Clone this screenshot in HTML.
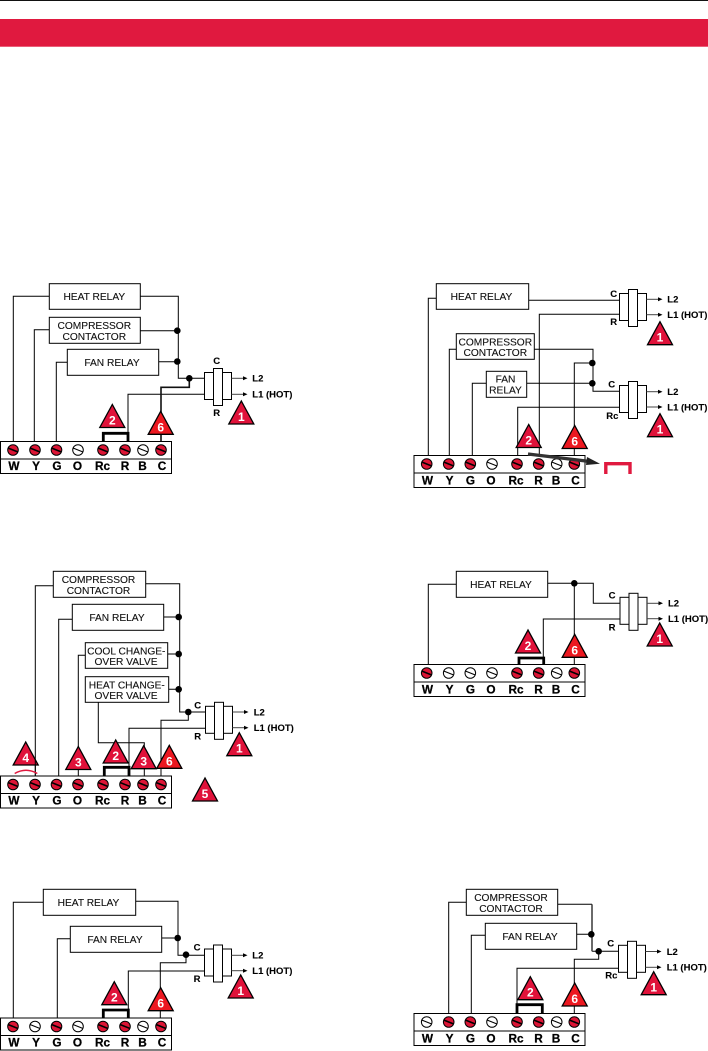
<!DOCTYPE html>
<html><head><meta charset="utf-8"><style>
html,body{margin:0;padding:0;background:#fff}
svg{display:block}
text{font-family:"Liberation Sans",sans-serif}
.w{fill:none;stroke:#000;stroke-width:1}
.th{fill:none;stroke:#111;stroke-width:1.6}
.j{fill:none;stroke:#000;stroke-width:2.8}
.b{fill:#fff;stroke:#000;stroke-width:1}
.bt{font-size:10.2px;text-anchor:middle;fill:#111;stroke:#111;stroke-width:.12}
.tl{font-size:11.8px;font-weight:bold;text-anchor:middle;fill:#000;stroke:#000;stroke-width:.25}
.lb{font-size:9.5px;font-weight:bold;fill:#000;stroke:#000;stroke-width:.1}
.c{text-anchor:middle}
.n{font-size:12px;font-weight:bold;text-anchor:middle;fill:#fff}
</style></head><body>
<svg xmlns="http://www.w3.org/2000/svg" width="708" height="1051" viewBox="0 0 708 1051">
<defs>
<g id="r"><circle r="5.3" fill="#dc1535" stroke="#000" stroke-width="1"/><line x1="-5" y1="-2" x2="5" y2="2" stroke="#000" stroke-width="1.5"/></g>
<g id="o"><circle r="5.3" fill="#fff" stroke="#000" stroke-width="1"/><line x1="-5" y1="-2" x2="5" y2="2" stroke="#000" stroke-width="1"/></g>
<polygon id="t" points="0,0 -12.5,23 12.5,23" fill="#e0123a" stroke="#000" stroke-width="1.3"/>
<polygon id="t6" points="0,0 -12.5,23 12.5,23" fill="#ec1820" stroke="#000" stroke-width="1.3"/>
<g id="k"><rect class="b" x="0" y="4" width="27" height="27"/><rect class="b" x="9" y="0" width="9" height="37"/></g>
<g id="a"><line x1="27" y1="0" x2="41" y2="0" stroke="#444" stroke-width="1"/><polygon points="43,0 38.5,-2 38.5,2" fill="#000"/></g>
<rect id="bk" class="b" x="0.5" y="0.5" width="171" height="32"/>
</defs>
<rect width="708" height="1051" fill="#fff"/>
<rect x="0" y="0" width="708" height="1" fill="#111"/>
<rect x="0" y="19" width="708" height="27.7" fill="#e0193f"/>

<!-- Diagram 1 -->
<path class="w" d="M13.3 441V296.3H49.3M34.3 441V329.7H49.3M56.3 441V362.3H67.3M140.3 296.3H178.3V378.3H204.3M140.3 330.7H178M158.7 361.7H178M128 433V394.3H204.3"/>
<path class="th" d="M161 441V387.3H189.3V378.3"/>
<path class="j" d="M103.3 441V433.3H128V441"/>
<circle cx="177.3" cy="330.7" r="3.3"/><circle cx="177.3" cy="361.5" r="3.3"/><circle cx="189.3" cy="378.3" r="3.3"/>
<rect class="b" x="49.3" y="283.7" width="91" height="25.6"/><text class="bt" x="94.3" y="300">HEAT RELAY</text>
<rect class="b" x="49.3" y="317.3" width="91" height="26"/><text class="bt" x="94.3" y="329">COMPRESSOR</text><text class="bt" x="94.3" y="340">CONTACTOR</text>
<rect class="b" x="67.3" y="349.3" width="91.4" height="26"/><text class="bt" x="112" y="366">FAN RELAY</text>
<use href="#k" x="204.5" y="368.5"/>
<use href="#a" x="204.5" y="378.3"/><use href="#a" x="204.5" y="394.3"/>
<text class="lb" x="252.3" y="381.7">L2</text><text class="lb" x="252.3" y="397.7">L1 (HOT)</text>
<text class="lb c" x="216.7" y="364">C</text><text class="lb c" x="216.7" y="416">R</text>
<use href="#t" x="112.3" y="404.5"/><text class="n" x="112.3" y="424.5">2</text>
<use href="#t6" x="160.7" y="411.3"/><text class="n" x="160.7" y="431.3">6</text>
<use href="#t" x="241.3" y="401"/><text class="n" x="241.3" y="421">1</text>
<g transform="translate(0,441)"><use href="#bk"/><line class="w" x1="0" y1="18" x2="171" y2="18"/>
<use href="#r" x="13" y="9"/><use href="#r" x="35" y="9"/><use href="#r" x="56.5" y="9"/><use href="#o" x="78" y="9"/><use href="#r" x="103" y="9"/><use href="#r" x="125" y="9"/><use href="#o" x="143" y="9"/><use href="#r" x="161" y="9"/>
<text class="tl" x="14" y="29">W</text><text class="tl" x="36" y="29">Y</text><text class="tl" x="57" y="29">G</text><text class="tl" x="77.5" y="29">O</text><text class="tl" x="102.5" y="29">Rc</text><text class="tl" x="125" y="29">R</text><text class="tl" x="142.5" y="29">B</text><text class="tl" x="162" y="29">C</text></g>

<!-- Diagram 2 -->
<path class="w" d="M428.3 456V298.3H436.3M528.7 300.3H619.3M619.3 314.3H539.3V456M449.3 456V349.3H456.3M534.3 349.3H593V391.3H619.3M574.3 456V363H592.3M472.3 456V383.3H486.3M526.7 383.3H592.3M619.3 407.3H517.7V456"/>
<circle cx="592.3" cy="363" r="3.3"/><circle cx="592.3" cy="383.3" r="3.3"/>
<rect class="b" x="436.3" y="283.7" width="92.4" height="25.6"/><text class="bt" x="481.5" y="300">HEAT RELAY</text>
<rect class="b" x="456.3" y="333.7" width="78" height="25.6"/><text class="bt" x="495.3" y="345.5">COMPRESSOR</text><text class="bt" x="495.3" y="356">CONTACTOR</text>
<rect class="b" x="486.3" y="371.3" width="40.4" height="26"/><text class="bt" x="505.5" y="382.5">FAN</text><text class="bt" x="505.5" y="393.5">RELAY</text>
<use href="#k" x="619.5" y="289.5"/><use href="#a" x="619.5" y="299.3"/><use href="#a" x="619.5" y="314.7"/>
<text class="lb" x="667.3" y="302.7">L2</text><text class="lb" x="667.3" y="318">L1 (HOT)</text>
<text class="lb c" x="613.7" y="297">C</text><text class="lb c" x="613.7" y="325">R</text>
<use href="#k" x="619.5" y="381.5"/><use href="#a" x="619.5" y="391.7"/><use href="#a" x="619.5" y="407"/>
<text class="lb" x="667.3" y="395">L2</text><text class="lb" x="667.3" y="410.5">L1 (HOT)</text>
<text class="lb c" x="611.7" y="387.3">C</text><text class="lb c" x="612.3" y="419">Rc</text>
<use href="#t" x="660" y="321.7"/><text class="n" x="660" y="341.7">1</text>
<use href="#t" x="660" y="413.7"/><text class="n" x="660" y="433.7">1</text>
<use href="#t" x="528.7" y="424.5"/><text class="n" x="528.7" y="444.5">2</text>
<use href="#t6" x="574.7" y="425.5"/><text class="n" x="574.7" y="445.5">6</text>
<g transform="translate(413.5,455)"><use href="#bk"/><line class="w" x1="0" y1="18" x2="172" y2="18"/>
<use href="#r" x="13.2" y="9"/><use href="#r" x="35.2" y="9"/><use href="#r" x="56.8" y="9"/><use href="#o" x="78.5" y="9"/><use href="#r" x="103.5" y="9"/><use href="#r" x="125.2" y="9"/><use href="#o" x="143.2" y="9"/><use href="#r" x="160.8" y="9"/>
<text class="tl" x="14" y="29.5">W</text><text class="tl" x="36" y="29.5">Y</text><text class="tl" x="57" y="29.5">G</text><text class="tl" x="77.5" y="29.5">O</text><text class="tl" x="102.5" y="29.5">Rc</text><text class="tl" x="125" y="29.5">R</text><text class="tl" x="142.5" y="29.5">B</text><text class="tl" x="162" y="29.5">C</text></g>
<line x1="528" y1="454" x2="590" y2="461.5" stroke="#333" stroke-width="3.2"/><polygon points="600,463.8 587,457 586,465" fill="#222"/>
<path d="M605.8 474V463.7H630V474" fill="none" stroke="#e0193f" stroke-width="3.4"/>

<!-- Diagram 3 -->
<path class="w" d="M35.3 776V585.7H53.3M145.7 583.7H179.7V712H205.3M58.7 776V619.3H72.3M163.7 617H179M78.3 776V655.3H85.3M167.7 654H179M168.7 689.3H179M98.3 702.3V742.7H144.3V776M205.3 728.3H129V776M188.3 712V720.3H161V776"/>
<path class="j" d="M104.3 776V767.3H129V776"/>
<circle cx="178.7" cy="617" r="3.3"/><circle cx="178.7" cy="654" r="3.3"/><circle cx="178.7" cy="689.3" r="3.3"/><circle cx="188.3" cy="712" r="3.3"/>
<rect class="b" x="53.3" y="571.3" width="92.4" height="26"/><text class="bt" x="98.5" y="583">COMPRESSOR</text><text class="bt" x="98.5" y="594">CONTACTOR</text>
<rect class="b" x="72.3" y="604.3" width="91.4" height="26"/><text class="bt" x="117" y="621">FAN RELAY</text>
<rect class="b" x="85.3" y="642.7" width="82.4" height="25.6"/><text class="bt" x="126.3" y="654.5">COOL CHANGE-</text><text class="bt" x="126" y="665">OVER VALVE</text>
<rect class="b" x="85.3" y="676.7" width="83.4" height="25.6"/><text class="bt" x="126.8" y="688.5">HEAT CHANGE-</text><text class="bt" x="126" y="699">OVER VALVE</text>
<use href="#k" x="205.5" y="702.3"/><use href="#a" x="205.5" y="712"/><use href="#a" x="205.5" y="727.7"/>
<text class="lb" x="253.7" y="715.5">L2</text><text class="lb" x="253.7" y="731">L1 (HOT)</text>
<text class="lb c" x="197.7" y="708.3">C</text><text class="lb c" x="197.7" y="739.7">R</text>
<use href="#t" x="239.3" y="732.7"/><text class="n" x="239.3" y="752.7">1</text>
<use href="#t" x="115.7" y="740"/><text class="n" x="115.7" y="760">2</text>
<use href="#t" x="78.3" y="746.5"/><text class="n" x="78.3" y="766.5">3</text>
<use href="#t" x="143.7" y="745.7"/><text class="n" x="143.7" y="765.7">3</text>
<use href="#t6" x="169.3" y="745.3"/><text class="n" x="169.3" y="765.3">6</text>
<use href="#t" x="25.7" y="742"/><text class="n" x="25.7" y="762">4</text>
<line class="w" x1="35.3" y1="760" x2="35.3" y2="776"/>
<use href="#t" x="205" y="778"/><text class="n" x="205" y="798">5</text>
<path d="M14.7 773.5Q26 767 37.3 773.5" fill="none" stroke="#e0193f" stroke-width="1.4"/>
<g transform="translate(0,775.5)"><use href="#bk"/><line class="w" x1="0" y1="18" x2="171" y2="18"/>
<use href="#r" x="13" y="9"/><use href="#r" x="35" y="9"/><use href="#r" x="56.5" y="9"/><use href="#r" x="78" y="9"/><use href="#r" x="103" y="9"/><use href="#r" x="125" y="9"/><use href="#r" x="143" y="9"/><use href="#r" x="161" y="9"/>
<text class="tl" x="14" y="29">W</text><text class="tl" x="36" y="29">Y</text><text class="tl" x="57" y="29">G</text><text class="tl" x="77.5" y="29">O</text><text class="tl" x="102.5" y="29">Rc</text><text class="tl" x="125" y="29">R</text><text class="tl" x="142.5" y="29">B</text><text class="tl" x="162" y="29">C</text></g>

<!-- Diagram 4 -->
<path class="w" d="M428.3 665V584.3H456.3M547.7 583.3H593.3V603.3H620.3M574.3 583.3V665M620.3 619H543.3V658"/>
<path class="j" d="M519 665V658H543.7V665"/>
<circle cx="574.3" cy="583.3" r="3.3"/>
<rect class="b" x="456.3" y="571.3" width="91.4" height="26"/><text class="bt" x="501" y="588">HEAT RELAY</text>
<use href="#k" x="620" y="593.3"/><use href="#a" x="620" y="603.3"/><use href="#a" x="620" y="618.7"/>
<text class="lb" x="668" y="606.7">L2</text><text class="lb" x="668" y="622">L1 (HOT)</text>
<text class="lb c" x="612" y="598.3">C</text><text class="lb c" x="612" y="630.3">R</text>
<use href="#t" x="659.7" y="623"/><text class="n" x="659.7" y="643">1</text>
<use href="#t" x="528" y="630"/><text class="n" x="528" y="650">2</text>
<use href="#t6" x="574.7" y="634.3"/><text class="n" x="574.7" y="654.3">6</text>
<g transform="translate(413.5,664)"><use href="#bk"/><line class="w" x1="0" y1="18" x2="172" y2="18"/>
<use href="#r" x="13.2" y="9"/><use href="#o" x="35.2" y="9"/><use href="#o" x="56.8" y="9"/><use href="#o" x="78.5" y="9"/><use href="#r" x="103.5" y="9"/><use href="#r" x="125.2" y="9"/><use href="#o" x="143.2" y="9"/><use href="#r" x="160.8" y="9"/>
<text class="tl" x="14" y="29.5">W</text><text class="tl" x="36" y="29.5">Y</text><text class="tl" x="57" y="29.5">G</text><text class="tl" x="77.5" y="29.5">O</text><text class="tl" x="102.5" y="29.5">Rc</text><text class="tl" x="125" y="29.5">R</text><text class="tl" x="142.5" y="29.5">B</text><text class="tl" x="162" y="29.5">C</text></g>

<!-- Diagram 5 -->
<path class="w" d="M13.3 1018V902.3H43.3M135.7 901.3H178V955.3H204.3M57.3 1018V938.7H70.3M161.7 938H178M186 955V962.7H160.3V1018M204.3 971H128.3V1010"/>
<path class="j" d="M103.3 1018V1010H128.3V1018"/>
<circle cx="177.7" cy="938" r="3.3"/><circle cx="186" cy="954.7" r="3.3"/>
<rect class="b" x="43.3" y="889.3" width="92.4" height="26"/><text class="bt" x="88.5" y="906">HEAT RELAY</text>
<rect class="b" x="70.3" y="926.3" width="91.4" height="26"/><text class="bt" x="115" y="943">FAN RELAY</text>
<use href="#k" x="204.5" y="945"/><use href="#a" x="204.5" y="955.3"/><use href="#a" x="204.5" y="970.7"/>
<text class="lb" x="252.3" y="958.7">L2</text><text class="lb" x="252.3" y="974">L1 (HOT)</text>
<text class="lb c" x="197" y="950.7">C</text><text class="lb c" x="197" y="982">R</text>
<use href="#t" x="240.7" y="975"/><text class="n" x="240.7" y="995">1</text>
<use href="#t" x="114.3" y="981.7"/><text class="n" x="114.3" y="1001.7">2</text>
<use href="#t6" x="160.7" y="987.7"/><text class="n" x="160.7" y="1007.7">6</text>
<g transform="translate(0,1017.5)"><use href="#bk"/><line class="w" x1="0" y1="18" x2="171" y2="18"/>
<use href="#r" x="13" y="9"/><use href="#o" x="35" y="9"/><use href="#r" x="56.5" y="9"/><use href="#o" x="78" y="9"/><use href="#r" x="103" y="9"/><use href="#r" x="125" y="9"/><use href="#o" x="143" y="9"/><use href="#r" x="161" y="9"/>
<text class="tl" x="14" y="29">W</text><text class="tl" x="36" y="29">Y</text><text class="tl" x="57" y="29">G</text><text class="tl" x="77.5" y="29">O</text><text class="tl" x="102.5" y="29">Rc</text><text class="tl" x="125" y="29">R</text><text class="tl" x="142.5" y="29">B</text><text class="tl" x="162" y="29">C</text></g>

<!-- Diagram 6 -->
<path class="w" d="M448.7 1014V902.3H466.3M557.7 904.3H592M471.3 1014V935.3H485.3M576.7 934.3H592M598.7 951.3V959.3H574.3V1014M618.3 968.3H517V1005M592 951.3H618.3"/>
<path d="M592 904.3V951.3" fill="none" stroke="#444" stroke-width="1.6"/>
<path class="j" d="M517 1014V1004.7H542.3V1014"/>
<circle cx="591.3" cy="934.3" r="3.3"/><circle cx="598.7" cy="951.3" r="3.3"/>
<rect class="b" x="466.3" y="889.3" width="91.4" height="26"/><text class="bt" x="511" y="901">COMPRESSOR</text><text class="bt" x="511" y="912">CONTACTOR</text>
<rect class="b" x="485.3" y="923.3" width="91.4" height="26"/><text class="bt" x="530" y="940">FAN RELAY</text>
<use href="#k" x="618.5" y="941.3"/><use href="#a" x="618.5" y="951.5"/><use href="#a" x="618.5" y="967.3"/>
<text class="lb" x="666.7" y="955">L2</text><text class="lb" x="666.7" y="970.7">L1 (HOT)</text>
<text class="lb c" x="610.7" y="946.7">C</text><text class="lb c" x="611.3" y="978.7">Rc</text>
<use href="#t" x="653.7" y="971.7"/><text class="n" x="653.7" y="991.7">1</text>
<use href="#t" x="530.3" y="976.7"/><text class="n" x="530.3" y="996.7">2</text>
<use href="#t6" x="574.7" y="983"/><text class="n" x="574.7" y="1003">6</text>
<g transform="translate(413.5,1013)"><use href="#bk"/><line class="w" x1="0" y1="18" x2="172" y2="18"/>
<use href="#o" x="13.2" y="9"/><use href="#r" x="35.2" y="9"/><use href="#r" x="56.8" y="9"/><use href="#o" x="78.5" y="9"/><use href="#r" x="103.5" y="9"/><use href="#r" x="125.2" y="9"/><use href="#o" x="143.2" y="9"/><use href="#r" x="160.8" y="9"/>
<text class="tl" x="14" y="29.5">W</text><text class="tl" x="36" y="29.5">Y</text><text class="tl" x="57" y="29.5">G</text><text class="tl" x="77.5" y="29.5">O</text><text class="tl" x="102.5" y="29.5">Rc</text><text class="tl" x="125" y="29.5">R</text><text class="tl" x="142.5" y="29.5">B</text><text class="tl" x="162" y="29.5">C</text></g>
</svg>
</body></html>
